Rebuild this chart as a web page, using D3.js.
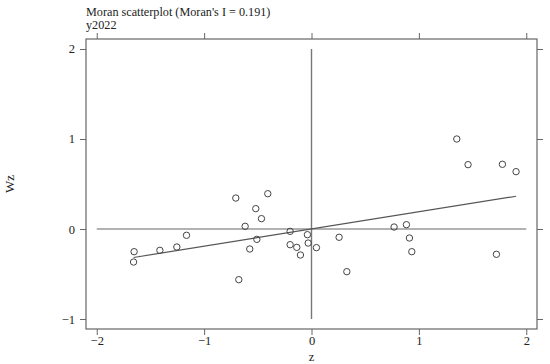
<!DOCTYPE html>
<html>
<head>
<meta charset="utf-8">
<script src="https://cdn.jsdelivr.net/npm/d3@7"></script>
<style>
  body { margin: 0; background: #fff; }
  svg { font-family: "Liberation Serif", "DejaVu Serif", serif; }
  .axis path, .axis line { stroke: #666; }
  .axis text { fill: #222; font-size: 12.5px; font-family: "Liberation Serif", "DejaVu Serif", serif; }
</style>
</head>
<body>
<svg id="chart" width="550" height="364"></svg>
<script>
// standardized values (z) and spatial lag (Wz), 31 regions
var zVals  = [-1.652, -1.657, -1.412, -1.254, -1.164, -0.705, -0.407, -0.519, -0.466, -0.618,
              -0.509, -0.575, -0.677, -0.199, -0.199, -0.137, -0.103, -0.038, -0.031,  0.046,
               0.257,  0.329,  0.769,  0.884,  0.912,  0.934,  1.353,  1.458,  1.722,  1.778,  1.905];
var wzVals = [-0.252, -0.367, -0.237, -0.200, -0.070,  0.344,  0.392,  0.226,  0.115,  0.030,
              -0.115, -0.222, -0.563, -0.026, -0.174, -0.204, -0.289, -0.063, -0.156, -0.207,
              -0.092, -0.474,  0.022,  0.048, -0.100, -0.252,  1.000,  0.715, -0.281,  0.719,  0.637];
var moranI = 0.191;
var xTicks = [-2, -1, 0, 1, 2];
var yTicks = [-1, 0, 1, 2];

var svg = d3.select("#chart");

var x = d3.scaleLinear().domain([-2.1, 2.1]).range([86, 537]);
var y = d3.scaleLinear().domain([-1.111, 2.111]).range([329, 39]);

function fmt(d) { return d < 0 ? "\u2212" + Math.abs(d) : String(d); }

// frame
svg.append("rect")
    .attr("x", x(-2.1)).attr("y", y(2.111))
    .attr("width", x(2.1) - x(-2.1)).attr("height", y(-1.111) - y(2.111))
    .attr("fill", "none").attr("stroke", "#666").attr("stroke-width", 1.2);

// axes, ticks on all four sides
svg.append("g").attr("class", "axis")
    .attr("transform", "translate(0," + y(-1.111) + ")")
    .call(d3.axisBottom(x).tickValues(xTicks).tickSize(6).tickPadding(1).tickFormat(fmt))
    .call(function(g) { g.select(".domain").remove(); });
svg.append("g").attr("class", "axis")
    .attr("transform", "translate(0," + y(2.111) + ")")
    .call(d3.axisTop(x).tickValues(xTicks).tickSize(6).tickFormat(""))
    .call(function(g) { g.select(".domain").remove(); });
svg.append("g").attr("class", "axis")
    .attr("transform", "translate(" + x(-2.1) + ",0)")
    .call(d3.axisLeft(y).tickValues(yTicks).tickSize(6).tickPadding(5).tickFormat(fmt))
    .call(function(g) { g.select(".domain").remove(); });
svg.append("g").attr("class", "axis")
    .attr("transform", "translate(" + x(2.1) + ",0)")
    .call(d3.axisRight(y).tickValues(yTicks).tickSize(6).tickFormat(""))
    .call(function(g) { g.select(".domain").remove(); });

// reference lines through the origin
svg.append("line")
    .attr("x1", x(0)).attr("x2", x(0)).attr("y1", y(2)).attr("y2", y(-1))
    .attr("stroke", "#777").attr("stroke-width", 1.4);
svg.append("line")
    .attr("x1", x(-2)).attr("x2", x(2)).attr("y1", y(0)).attr("y2", y(0))
    .attr("stroke", "#666").attr("stroke-width", 1.2);

// fitted line, slope = Moran's I
var zMin = d3.min(zVals), zMax = d3.max(zVals);
svg.append("line")
    .attr("x1", x(zMin)).attr("y1", y(moranI * zMin))
    .attr("x2", x(zMax)).attr("y2", y(moranI * zMax))
    .attr("stroke", "#555").attr("stroke-width", 1.2);

// points
svg.append("g").selectAll("circle")
    .data(d3.range(zVals.length))
    .join("circle")
    .attr("cx", function(i) { return x(zVals[i]); })
    .attr("cy", function(i) { return y(wzVals[i]); })
    .attr("r", 3.2)
    .attr("fill", "none")
    .attr("stroke", "#444")
    .attr("stroke-width", 1);

// titles
svg.append("text").attr("x", 86).attr("y", 16)
    .attr("font-size", 12.2).attr("fill", "#222")
    .text("Moran scatterplot (Moran's I = " + moranI.toFixed(3) + ")");
svg.append("text").attr("x", 86).attr("y", 28.5)
    .attr("font-size", 12.2).attr("fill", "#222")
    .text("y2022");

svg.append("text").attr("x", x(0)).attr("y", 360.5)
    .attr("text-anchor", "middle").attr("font-size", 12.5).attr("fill", "#222")
    .text("z");
svg.append("text")
    .attr("transform", "translate(14," + ((y(2.111) + y(-1.111)) / 2) + ") rotate(-90)")
    .attr("text-anchor", "middle").attr("font-size", 13).attr("fill", "#222")
    .text("Wz");
</script>
</body>
</html>
